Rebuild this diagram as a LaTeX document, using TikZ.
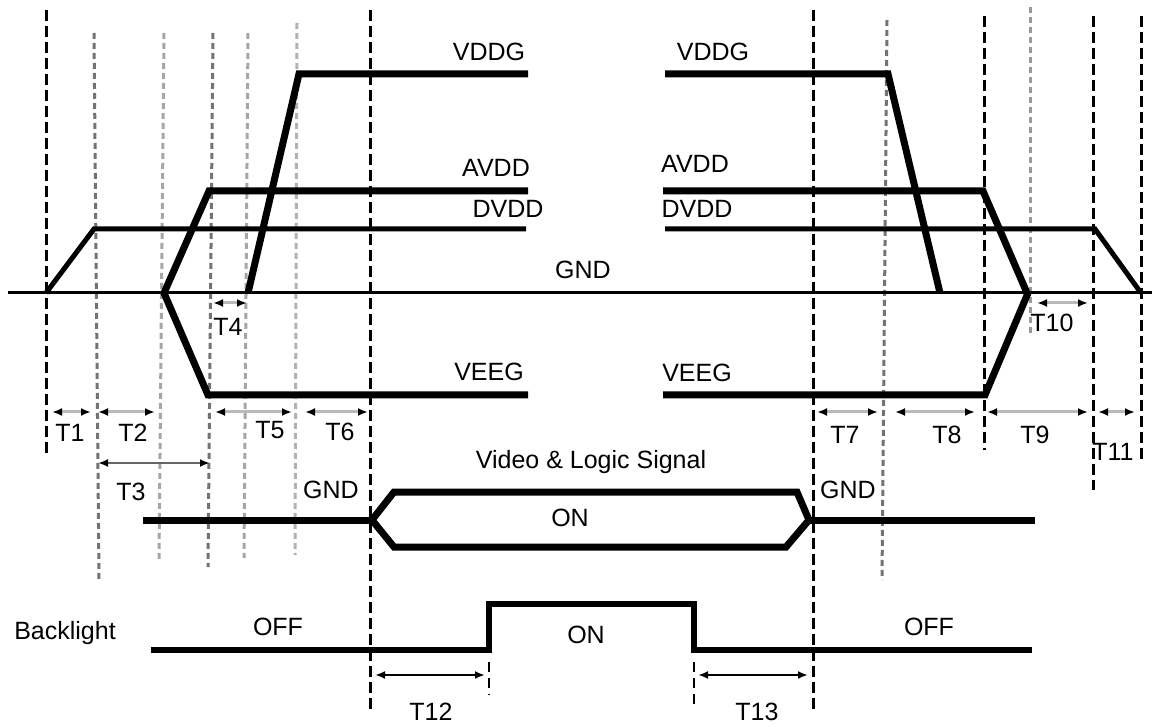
\documentclass[tikz,border=0pt]{standalone}
\usepackage{fontspec}
\setmainfont{Liberation Sans}
\usetikzlibrary{arrows.meta}
\tikzset{
  guide/.style={draw=black, line width=1.5pt, dash pattern=on 5.5pt off 2.5pt},
  faint/.style={line width=1.5pt, dash pattern=on 3pt off 2pt},
  thinguide/.style={draw=black, line width=0.8pt, dash pattern=on 5pt off 3pt},
  rail/.style={line width=3.5pt, line join=miter},
  dvddrail/.style={line width=2.5pt, line join=miter},
  dim/.style={draw=gray!55, line width=1.5pt, {Latex[length=5pt,width=4pt,color=black]}-{Latex[length=5pt,width=4pt,color=black]}},
  dimdark/.style={draw=black!60, line width=1pt, {Latex[length=5pt,width=4pt,color=black]}-{Latex[length=5pt,width=4pt,color=black]}},
  dimblack/.style={draw=black, line width=1pt, {Latex[length=5pt,width=4pt,color=black]}-{Latex[length=5pt,width=4pt,color=black]}},
  txt/.style={font=\fontsize{12.5}{14}\selectfont, inner sep=0pt},
}

\begin{document}
\begin{tikzpicture}[x=0.5pt, y=-0.5pt]
    \useasboundingbox[fill=white] (0,0) rectangle (1152,727);

    % timing guides
    \foreach \x/\ya/\yb in {46/10/457, 370/10/712, 813/10/712, 984/16/450, 1093/16/490, 1141/16/462}
        \draw[guide] (\x,\ya) -- (\x,\yb);
    \foreach \xa/\xb/\ya/\yb/\c in {94/99/33/580/55, 164/159/33/560/35, 213/208/33/567/55, 248/244/33/558/35, 297/295/23/555/30, 887/882/20/580/55, 1030/1030/7/335/40}
        \draw[faint, draw=black!\c] (\xa,\ya) -- (\xb,\yb);
    \draw[thinguide] (489,662) -- (489,695);
    \draw[thinguide] (694,662) -- (694,708);

    % power rails
    \draw[line width=1.5pt] (8,293) -- (1152,293);
    \draw[dvddrail] (46,293) -- (94,229) -- (526,229);
    \draw[rail] (164,293) -- (209,191) -- (528,191);
    \draw[rail] (248,293) -- (299,74) -- (528,74);
    \draw[rail] (164,293) -- (208,395) -- (528,395);
    \draw[rail] (665,74) -- (888,74) -- (940,293);
    \draw[rail] (663,191) -- (983,191) -- (1027,293);
    \draw[dvddrail] (665,229) -- (1095,229) -- (1141,293);
    \draw[rail] (663,395) -- (985,395) -- (1028,293);

    \node[txt] (vddgL) at (489,52) {VDDG};
    \node[txt] (vddgR) at (713,52) {VDDG};
    \node[txt] (avddL) at (496,168) {AVDD};
    \node[txt] (avddR) at (695,164) {AVDD};
    \node[txt] (dvddL) at (508,209) {DVDD};
    \node[txt] (dvddR) at (697,209) {DVDD};
    \node[txt] (gnd) at (583,270) {GND};
    \node[txt] (veegL) at (489,372) {VEEG};
    \node[txt] (veegR) at (697,373) {VEEG};

    % video & logic bus
    \draw[rail] (143,520) -- (372,520);
    \draw[rail] (372,520) -- (394,492) -- (797,492) -- (809,520) -- (786,547) -- (394,547) -- cycle;
    \draw[rail] (809,520) -- (1035,520);
    \node[txt] (video) at (591,462) {Video \& Logic Signal};
    \node[txt] (busOn) at (570,518) {ON};
    \node[txt] (gndL) at (331,490) {GND};
    \node[txt] (gndR) at (848,490) {GND};

    % backlight
    \draw[line width=3pt, line join=miter] (151,650) -- (489,650) -- (489,604) -- (694,604) -- (694,650) -- (1032,650);
    \node[txt] (backlight) at (65,633) {Backlight};
    \node[txt] (offL) at (278,627) {OFF};
    \node[txt] (blOn) at (586,635) {ON};
    \node[txt] (offR) at (929,627) {OFF};

    % intervals
    \foreach \n/\xa/\xb/\y/\lx/\ly/\s in {1/52/91/412/70/433/dim, 2/98/155/412/133/433/dim, 3/98/210/463/131/492/dimdark,
            4/213/247/303/228/327/dim, 5/215/292/412/270/430/dim, 6/305/368/412/340/432/dim,
            7/817/878/412/845/435/dim, 8/895/975/412/947/435/dim, 9/987/1088/412/1035/435/dim,
            10/1037/1088/303/1052/323/dim, 11/1098/1135/412/1113/452/dim,
            12/375/485/675/431/712/dimblack, 13/698/808/675/757/712/dimblack}{
        \coordinate (T\n a) at (\xa,\y);
        \coordinate (T\n b) at (\xb,\y);
        \draw[\s] (T\n a) -- (T\n b);
        \node[txt] (T\n) at (\lx,\ly) {T\n};
    }
\end{tikzpicture}
\end{document}
